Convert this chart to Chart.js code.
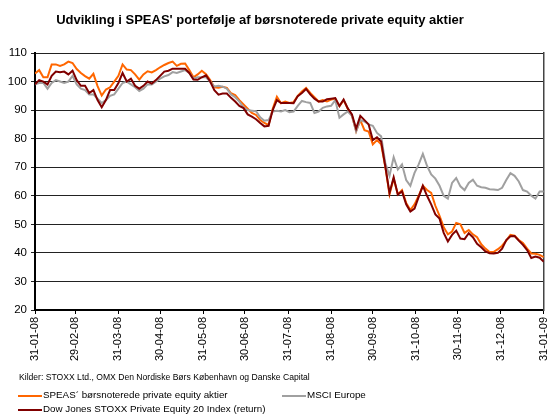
<!DOCTYPE html>
<html>
<head>
<meta charset="utf-8">
<script src="https://cdn.jsdelivr.net/npm/chart.js@4/dist/chart.umd.min.js"></script>
<style>
  html, body { margin: 0; padding: 0; background: #fff; }
  #wrap { position: relative; width: 560px; height: 414px; overflow: hidden; font-family: "Liberation Sans", Arial, sans-serif; color: #000; }
  canvas { position: absolute; left: 0; top: 0; }
  .t { position: absolute; white-space: nowrap; }
  #title { left: 0; width: 520px; top: 12px; text-align: center; font-weight: bold; font-size: 13px; }
  #src { left: 19px; top: 372px; font-size: 8.6px; }
  .leg { position: absolute; font-size: 9.8px; white-space: nowrap; }
  .sw { position: absolute; height: 2px; width: 24px; }
</style>
</head>
<body>
<div id="wrap">
  <canvas id="c" width="560" height="414"></canvas>
  <div id="title" class="t">Udvikling i SPEAS' portefølje af børsnoterede private equity aktier</div>
  <div id="src" class="t">Kilder: STOXX Ltd., OMX Den Nordiske Børs København og Danske Capital</div>
  <div class="sw" style="left:18px;top:395px;background:#FF6600"></div>
  <div class="leg" style="left:43px;top:389px">SPEAS´ børsnoterede private equity aktier</div>
  <div class="sw" style="left:282px;top:395px;background:#A0A0A0"></div>
  <div class="leg" style="left:307px;top:389px">MSCI Europe</div>
  <div class="sw" style="left:18px;top:409px;background:#800000"></div>
  <div class="leg" style="left:43px;top:403px">Dow Jones STOXX Private Equity 20 Index (return)</div>
</div>
<script>
// Day offsets from 31-01-08 (one observation every third day)
const days = [0,3,6,9,12,15,18,21,24,27,30,33,36,39,42,45,48,51,54,57,60,63,66,69,72,75,78,81,84,87,90,93,96,99,102,105,108,111,114,117,120,123,126,129,132,135,138,141,144,147,150,153,156,159,162,165,168,171,174,177,180,183,186,189,192,195,198,201,204,207,210,213,216,219,222,225,228,231,234,237,240,243,246,249,252,255,258,261,264,267,270,273,276,279,282,285,288,291,294,297,300,303,306,309,312,315,318,321,324,327,330,333,336,339,342,345,348,351,354,357,360,363,366];

// Month-end tick labels and their day offsets
const tickDays = [0,29,60,90,121,151,182,213,243,274,304,335,366];
const tickLabels = ["31-01-08","29-02-08","31-03-08","30-04-08","31-05-08","30-06-08","31-07-08","31-08-08","30-09-08","31-10-08","30-11-08","31-12-08","31-01-09"];

const speas = [102.8,104,101.5,101.5,106,106,105.5,106,107,106.5,104.4,103,101.9,101,102.7,98.4,95.1,97.2,98,100,102,106,104.2,104,102.5,100.7,102.5,103.6,103.2,104,105,105.8,106.5,107,105.5,106.2,106.3,104,101.5,102.5,103.8,102.6,100.5,98,97.8,98.2,97.8,95.9,95.3,93.5,92,90.5,89,88.3,86.5,85.5,84.8,90.5,94.7,92.4,93,92.5,92.8,95,96.5,97.8,96,94.5,93,93.5,93,93.7,94,91.4,93.5,90.5,88,82.6,86.5,83,82.5,78,79.5,78,70,60.5,66,60.5,62,57.5,55,57,60,63.5,62,61,56.5,53,49,46.5,47.5,50.5,50,47,48,46.5,45.5,43,41.5,40.3,40.4,41.3,42.5,44.3,46.3,46,44.5,43.5,41.5,39.8,39.7,39.3,38.5];

const msci = [99,99.5,99.5,97.5,99.5,100.5,100,99.5,100,102,99,97.5,97,95.5,95.5,94,92.5,93.5,95,95.5,97.5,99.5,100,99,98,96.7,97.5,99,99,100,101,101.8,102.3,103.3,103,103.5,104,103,101,101.5,101.5,101.5,100,98.3,98.5,98.2,97.5,95.5,94.5,93,91,90,89.8,89.6,87.5,86.3,86.5,89.5,89.8,89.5,90,89.3,89.5,91.5,93.2,92.8,92.5,89,89.5,90.8,91.3,91.5,93.5,87.3,88.5,89.5,88,82.6,86.5,86,85,84.5,82,80.8,71.5,67,73.5,69.2,71,65.5,63.5,68,71,74.7,70.5,67.5,66,63.5,60,59,64.5,66.2,63.3,62,64.5,65.6,63.5,63,62.8,62.3,62.2,62,62.8,65.5,67.9,67,65,62,61.5,60,59,61.5,61.5];

const djstoxx = [99,100.5,100,99,102,103.5,103.3,103.5,102.5,103.8,100.5,98.5,98.5,96,97,93.5,91,93.5,97,97,99.5,103,100,101,98.5,97.5,98.5,100,99.3,100.5,102,103.5,103.8,104.5,104.5,104.5,104.5,103,100.7,100.6,101.5,102.2,100,97,95.4,95.8,95.8,94.3,93,91.5,90.7,88.5,87.7,86.8,85.5,84.3,84.5,90,93.5,92.5,92.5,92.5,92.4,94.9,96,97.4,95.5,94,93,93,93.8,94,94.2,91.4,93.7,90.6,88.5,83.5,88,86.5,85,79.5,80.5,79,70.3,61,66.5,60.4,61.5,57,54.5,55.5,59.6,63.5,60,57,53.5,52,47,44,46.3,47.8,45,44.8,46.9,45.5,43.2,42,40.5,39.9,39.8,40,41.5,44.5,45.8,45.9,44.3,42.8,41,38.2,38.7,38.3,36.9];

const yTicks = [20,30,40,50,60,70,80,90,100,110];

function pts(vals) { return days.map((d, i) => ({ x: d, y: vals[i] })); }

const FONT = "'Liberation Sans', Arial, sans-serif";

new Chart(document.getElementById('c'), {
  type: 'line',
  data: {
    datasets: [
      { label: 'Dow Jones STOXX Private Equity 20 Index (return)', data: pts(djstoxx), borderColor: '#800000', borderWidth: 2, pointRadius: 0, tension: 0, fill: false },
      { label: 'MSCI Europe', data: pts(msci), borderColor: '#A0A0A0', borderWidth: 2, pointRadius: 0, tension: 0, fill: false },
      { label: 'SPEAS´ børsnoterede private equity aktier', data: pts(speas), borderColor: '#FF6600', borderWidth: 2, pointRadius: 0, tension: 0, fill: false }
    ]
  },
  options: {
    responsive: false,
    animation: false,
    devicePixelRatio: 1,
    layout: { padding: { top: 53, right: 5, bottom: 52, left: 0 } },
    plugins: { legend: { display: false }, title: { display: false }, tooltip: { enabled: false } },
    scales: {
      x: {
        type: 'linear',
        min: tickDays[0],
        max: tickDays[tickDays.length - 1],
        afterBuildTicks: (s) => { s.ticks = tickDays.map(v => ({ value: v })); },
        afterFit: (s) => { s.height = 52; },
        ticks: {
          autoSkip: false, maxRotation: 90, minRotation: 90, padding: 3,
          color: '#000', font: { family: FONT, size: 11 },
          callback: (v) => { const i = tickDays.indexOf(v); return i >= 0 ? tickLabels[i] : ''; }
        },
        grid: { drawOnChartArea: false, drawTicks: true, tickLength: 4, color: '#000' },
        border: { display: true, color: '#000', width: 2 }
      },
      y: {
        min: yTicks[0],
        max: yTicks[yTicks.length - 1],
        afterBuildTicks: (s) => { s.ticks = yTicks.map(v => ({ value: v })); },
        afterFit: (s) => { s.width = 35; },
        ticks: { padding: 4, color: '#000', font: { family: FONT, size: 11.5 } },
        grid: { color: '#222', lineWidth: 1, drawTicks: true, tickLength: 4 },
        border: { display: true, color: '#000', width: 2 }
      },
      y2: {
        position: 'right',
        min: yTicks[0],
        max: yTicks[yTicks.length - 1],
        afterFit: (s) => { s.width = 0; },
        ticks: { display: false },
        grid: { drawOnChartArea: false, drawTicks: false },
        border: { display: true, color: '#444', width: 1.5 }
      }
    }
  }
});
</script>
</body>
</html>
